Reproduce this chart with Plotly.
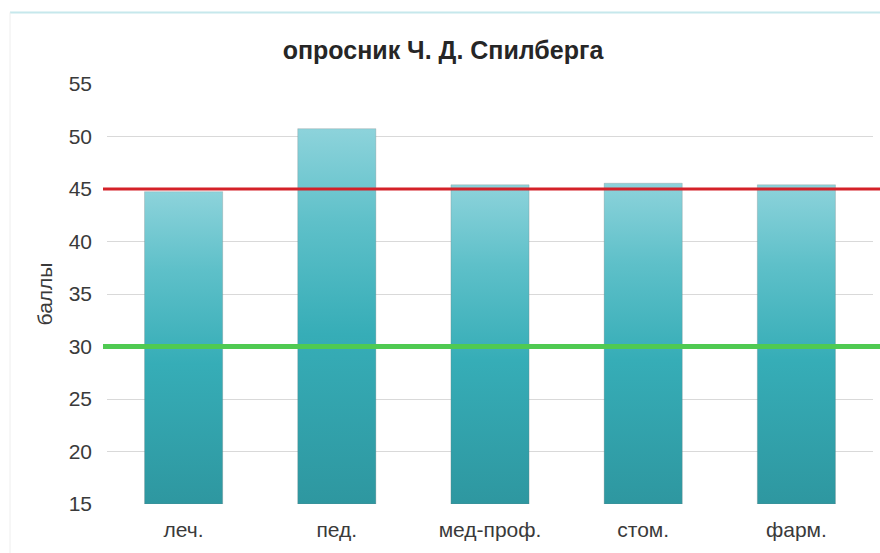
import plotly.graph_objects as go

# Survey scores by faculty
categories = ["леч.", "пед.", "мед-проф.", "стом.", "фарм."]
scores = [44.75, 50.75, 45.4, 45.55, 45.4]

# Reference levels drawn across the chart
high_level = 45
low_level = 30

y_min, y_max = 15, 55
bar_half = 0.255

W, H = 880, 553
M_L, M_R, M_T, M_B = 107, 7, 84, 49
plot_w = W - M_L - M_R
plot_h = H - M_T - M_B


def px_to_paper_x(px):
    return (px - M_L) / plot_w


def px_to_paper_y(py):
    return 1 - (py - M_T) / plot_h


bar_scale = [
    [0.0, "#2e97a0"],
    [0.45, "#36adb7"],
    [0.75, "#5ec0c9"],
    [1.0, "#8dd3db"],
]

fig = go.Figure()

for i, (cat, val) in enumerate(zip(categories, scores)):
    x0, x1 = i - bar_half, i + bar_half
    fig.add_trace(go.Scatter(
        x=[x0, x1, x1, x0, x0],
        y=[y_min, y_min, val, val, y_min],
        mode="lines",
        fill="toself",
        fillgradient=dict(type="vertical", colorscale=bar_scale),
        line=dict(color="rgba(120,120,120,0.25)", width=1),
        name=cat,
        hoverinfo="text",
        text=f"{cat}: {val}",
        showlegend=False,
    ))

line_x0 = px_to_paper_x(103)
line_x1 = px_to_paper_x(880)

fig.add_shape(type="line", xref="paper", yref="y",
              x0=line_x0, x1=line_x1, y0=high_level, y1=high_level,
              line=dict(color="#d42128", width=3), layer="above")
fig.add_shape(type="line", xref="paper", yref="y",
              x0=line_x0, x1=line_x1, y0=low_level, y1=low_level,
              line=dict(color="#4fca52", width=5), layer="above")

# Thin frame at the top and left edges
fig.add_shape(type="line", xref="paper", yref="paper",
              x0=px_to_paper_x(10), x1=px_to_paper_x(880),
              y0=px_to_paper_y(12.5), y1=px_to_paper_y(12.5),
              line=dict(color="#c6e8ec", width=2))
fig.add_shape(type="line", xref="paper", yref="paper",
              x0=px_to_paper_x(10), x1=px_to_paper_x(10),
              y0=px_to_paper_y(H), y1=px_to_paper_y(12.5),
              line=dict(color="#eeeeee", width=1))

fig.update_layout(
    width=W, height=H,
    margin=dict(l=M_L, r=M_R, t=M_T, b=M_B),
    paper_bgcolor="white",
    plot_bgcolor="white",
    font=dict(family="Liberation Sans, Arial, sans-serif", color="#3a3a3a"),
    title=dict(
        text="<b>опросник Ч. Д. Спилберга</b>",
        x=(443 / W), xanchor="center",
        y=1 - 50 / H, yanchor="middle",
        font=dict(size=25, color="#262626"),
    ),
    xaxis=dict(
        range=[-0.5, 4.5],
        tickmode="array",
        tickvals=list(range(len(categories))),
        ticktext=categories,
        showgrid=False,
        zeroline=False,
        showline=False,
        ticks="",
        tickfont=dict(size=21, color="#3a3a3a"),
        ticklabelstandoff=11,
        fixedrange=True,
    ),
    yaxis=dict(
        range=[y_min, y_max],
        tickvals=list(range(15, 56, 5)),
        showgrid=True,
        gridcolor="#d9d9d9",
        gridwidth=1,
        zeroline=False,
        ticks="",
        tickfont=dict(size=21, color="#3a3a3a"),
        ticklabelstandoff=14,
        title=dict(text="баллы", font=dict(size=21, color="#3a3a3a"), standoff=10),
    ),
)

fig.write_html("out.html")
